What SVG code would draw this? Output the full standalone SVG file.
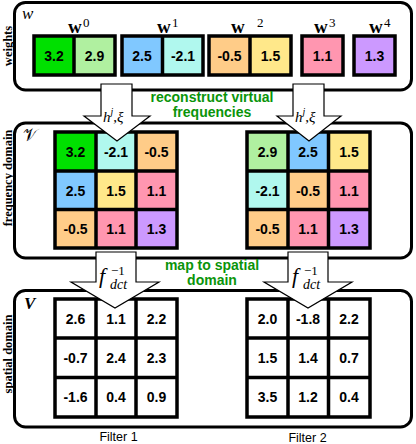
<svg xmlns="http://www.w3.org/2000/svg" width="416" height="444" viewBox="0 0 416 444">
<style>
.panel{fill:#fff;stroke:#000;stroke-width:3}
.grid{fill:none;stroke:#000;stroke-width:3.5}
.num{font-family:"Liberation Sans",Arial,sans-serif;font-weight:bold;font-size:14px;text-anchor:middle;fill:#000}
.green{font-family:"Liberation Sans",Arial,sans-serif;font-weight:bold;font-size:14px;text-anchor:middle;fill:#0a940a}
.side{font-family:"Liberation Serif","Times New Roman",serif;font-weight:bold;font-size:12.5px;text-anchor:middle;fill:#000}
.cap{font-family:"Liberation Sans",Arial,sans-serif;font-size:12.5px;text-anchor:middle;fill:#000}
.wb{font-family:"Liberation Serif","Times New Roman",serif;font-weight:bold;font-size:19px;fill:#000}
.sup{font-family:"Liberation Serif","Times New Roman",serif;font-size:13px;fill:#000}
.math{font-family:"Liberation Serif","Times New Roman",serif;font-style:italic;fill:#000}
.arrow{fill:#fff;stroke:#000;stroke-width:1.2}
.c32{fill:#00e000}.c29{fill:#b0f0a0}.c25{fill:#80c8ff}.c21{fill:#b0f8ee}.c05{fill:#ffcc88}.c15{fill:#ffe88a}.c11{fill:#ff96b0}.c13{fill:#cc99ff}
</style>

<g id="panel-weights">
<rect class="panel" x="14.5" y="2.5" width="397" height="87.5" rx="11"/>
<text class="side" transform="translate(12,46) rotate(-90)">weights</text>
<text class="math" x="22" y="19" font-size="17">w</text>
</g>

<g id="w0">
<text class="wb" x="68" y="33">w</text><text class="sup" x="83" y="27">0</text>
<rect class="c32" x="34" y="36" width="40" height="39"/>
<rect class="c29" x="74" y="36" width="41" height="39"/>
<rect class="grid" x="34" y="36" width="81" height="39"/>
<line class="grid" x1="74" y1="36" x2="74" y2="75"/>
<text class="num" x="54" y="61">3.2</text><text class="num" x="94.5" y="61">2.9</text>
</g>

<g id="w1">
<text class="wb" x="157" y="33">w</text><text class="sup" x="172" y="27">1</text>
<rect class="c25" x="122" y="36" width="40.5" height="39"/>
<rect class="c21" x="162.5" y="36" width="40.5" height="39"/>
<rect class="grid" x="122" y="36" width="81" height="39"/>
<line class="grid" x1="162.5" y1="36" x2="162.5" y2="75"/>
<text class="num" x="142" y="61">2.5</text><text class="num" x="183" y="61">-2.1</text>
</g>

<g id="w2">
<text class="wb" x="231" y="33">w</text><text class="sup" x="257" y="27">2</text>
<rect class="c05" x="209" y="36" width="41" height="39"/>
<rect class="c15" x="250" y="36" width="41" height="39"/>
<rect class="grid" x="209" y="36" width="82" height="39"/>
<line class="grid" x1="250" y1="36" x2="250" y2="75"/>
<text class="num" x="229.5" y="61">-0.5</text><text class="num" x="270.5" y="61">1.5</text>
</g>

<g id="w3">
<text class="wb" x="314" y="33">w</text><text class="sup" x="329" y="27">3</text>
<rect class="grid" x="302" y="36" width="41" height="39" style="fill:#ff96b0"/>
<text class="num" x="322.5" y="61">1.1</text>
</g>

<g id="w4">
<text class="wb" x="369" y="33">w</text><text class="sup" x="384" y="27">4</text>
<rect class="grid" x="354" y="36" width="41" height="39" style="fill:#cc99ff"/>
<text class="num" x="374.5" y="61">1.3</text>
</g>

<g id="panel-frequency">
<rect class="panel" x="14.5" y="123" width="397" height="135" rx="11"/>
<text class="side" transform="translate(12,178) rotate(-90)">frequency domain</text>
<text class="math" x="23" y="141" font-size="17" style="font-family:'DejaVu Serif','Noto Sans',serif;font-style:normal">𝒱</text>
</g>

<g id="freq-filter1">
<rect class="c32" x="55" y="132" width="41" height="39"/>
<rect class="c21" x="96" y="132" width="40" height="39"/>
<rect class="c05" x="136" y="132" width="41" height="39"/>
<rect class="c25" x="55" y="171" width="41" height="38.5"/>
<rect class="c15" x="96" y="171" width="40" height="38.5"/>
<rect class="c11" x="136" y="171" width="41" height="38.5"/>
<rect class="c05" x="55" y="209.5" width="41" height="38.5"/>
<rect class="c11" x="96" y="209.5" width="40" height="38.5"/>
<rect class="c13" x="136" y="209.5" width="41" height="38.5"/>
<rect class="grid" x="55" y="132" width="122" height="116"/>
<path class="grid" d="M96 132V248M136 132V248M55 171H177M55 209.5H177"/>
<text class="num" x="75.5" y="157">3.2</text><text class="num" x="116" y="157">-2.1</text><text class="num" x="156.5" y="157">-0.5</text>
<text class="num" x="75.5" y="195.5">2.5</text><text class="num" x="116" y="195.5">1.5</text><text class="num" x="156.5" y="195.5">1.1</text>
<text class="num" x="75.5" y="234">-0.5</text><text class="num" x="116" y="234">1.1</text><text class="num" x="156.5" y="234">1.3</text>
</g>

<g id="freq-filter2">
<rect class="c29" x="247" y="132" width="41" height="39"/>
<rect class="c25" x="288" y="132" width="40.5" height="39"/>
<rect class="c15" x="328.5" y="132" width="41.5" height="39"/>
<rect class="c21" x="247" y="171" width="41" height="38.5"/>
<rect class="c05" x="288" y="171" width="40.5" height="38.5"/>
<rect class="c11" x="328.5" y="171" width="41.5" height="38.5"/>
<rect class="c05" x="247" y="209.5" width="41" height="38.5"/>
<rect class="c11" x="288" y="209.5" width="40.5" height="38.5"/>
<rect class="c13" x="328.5" y="209.5" width="41.5" height="38.5"/>
<rect class="grid" x="247" y="132" width="123" height="116"/>
<path class="grid" d="M288 132V248M328.5 132V248M247 171H370M247 209.5H370"/>
<text class="num" x="267.5" y="157">2.9</text><text class="num" x="308" y="157">2.5</text><text class="num" x="349" y="157">1.5</text>
<text class="num" x="267.5" y="195.5">-2.1</text><text class="num" x="308" y="195.5">-0.5</text><text class="num" x="349" y="195.5">1.1</text>
<text class="num" x="267.5" y="234">-0.5</text><text class="num" x="308" y="234">1.1</text><text class="num" x="349" y="234">1.3</text>
</g>

<g id="panel-spatial">
<rect class="panel" x="14.5" y="290.5" width="397" height="136.5" rx="11"/>
<text class="side" transform="translate(12,354) rotate(-90)">spatial domain</text>
<text class="math" x="24" y="309" font-size="17" font-weight="bold">V</text>
</g>

<g id="spatial-filter1">
<rect class="grid" x="55" y="299" width="122" height="118" style="fill:#fff"/>
<path class="grid" d="M96 299V417M136 299V417M55 338H177M55 377.5H177"/>
<text class="num" x="75.5" y="324">2.6</text><text class="num" x="116" y="324">1.1</text><text class="num" x="156.5" y="324">2.2</text>
<text class="num" x="75.5" y="363">-0.7</text><text class="num" x="116" y="363">2.4</text><text class="num" x="156.5" y="363">2.3</text>
<text class="num" x="75.5" y="402">-1.6</text><text class="num" x="116" y="402">0.4</text><text class="num" x="156.5" y="402">0.9</text>
<text class="cap" x="118.5" y="441">Filter 1</text>
</g>

<g id="spatial-filter2">
<rect class="grid" x="247" y="299" width="123" height="118" style="fill:#fff"/>
<path class="grid" d="M288 299V417M328.5 299V417M247 338H370M247 377.5H370"/>
<text class="num" x="267.5" y="324">2.0</text><text class="num" x="308" y="324">-1.8</text><text class="num" x="349" y="324">2.2</text>
<text class="num" x="267.5" y="363">1.5</text><text class="num" x="308" y="363">1.4</text><text class="num" x="349" y="363">0.7</text>
<text class="num" x="267.5" y="402">3.5</text><text class="num" x="308" y="402">1.2</text><text class="num" x="349" y="402">0.4</text>
<text class="cap" x="307.5" y="441.5">Filter 2</text>
</g>

<g id="connectors">
<polygon class="arrow" points="101,84 132,84 132,116 150,116 117,141 84,116 101,116"/>
<polygon class="arrow" points="293,84 324,84 324,116 341,116 309,141 277,116 293,116"/>
<polygon class="arrow" points="96,252 136,252 136,282 159,282 115,308 71,282 96,282"/>
<polygon class="arrow" points="288,252 328,252 328,282 352,282 308,308 264,282 288,282"/>
<text class="math" x="103" y="122" font-size="15">h<tspan font-size="10" dy="-7">j</tspan><tspan dy="7" font-style="normal">,</tspan>ξ</text>
<text class="math" x="295" y="122" font-size="15">h<tspan font-size="10" dy="-7">j</tspan><tspan dy="7" font-style="normal">,</tspan>ξ</text>
<text class="math" x="99" y="283" font-size="22">f</text>
<text class="sup" x="111" y="275" font-size="16">−1</text>
<text class="math" x="110" y="289" font-size="14">dct</text>
<text class="math" x="292" y="283" font-size="22">f</text>
<text class="sup" x="304" y="275" font-size="16">−1</text>
<text class="math" x="303" y="289" font-size="14">dct</text>
<text class="green" x="212" y="102">reconstruct virtual</text>
<text class="green" x="212" y="117">frequencies</text>
<text class="green" x="212" y="270">map to spatial</text>
<text class="green" x="212" y="285">domain</text>
</g>
</svg>
